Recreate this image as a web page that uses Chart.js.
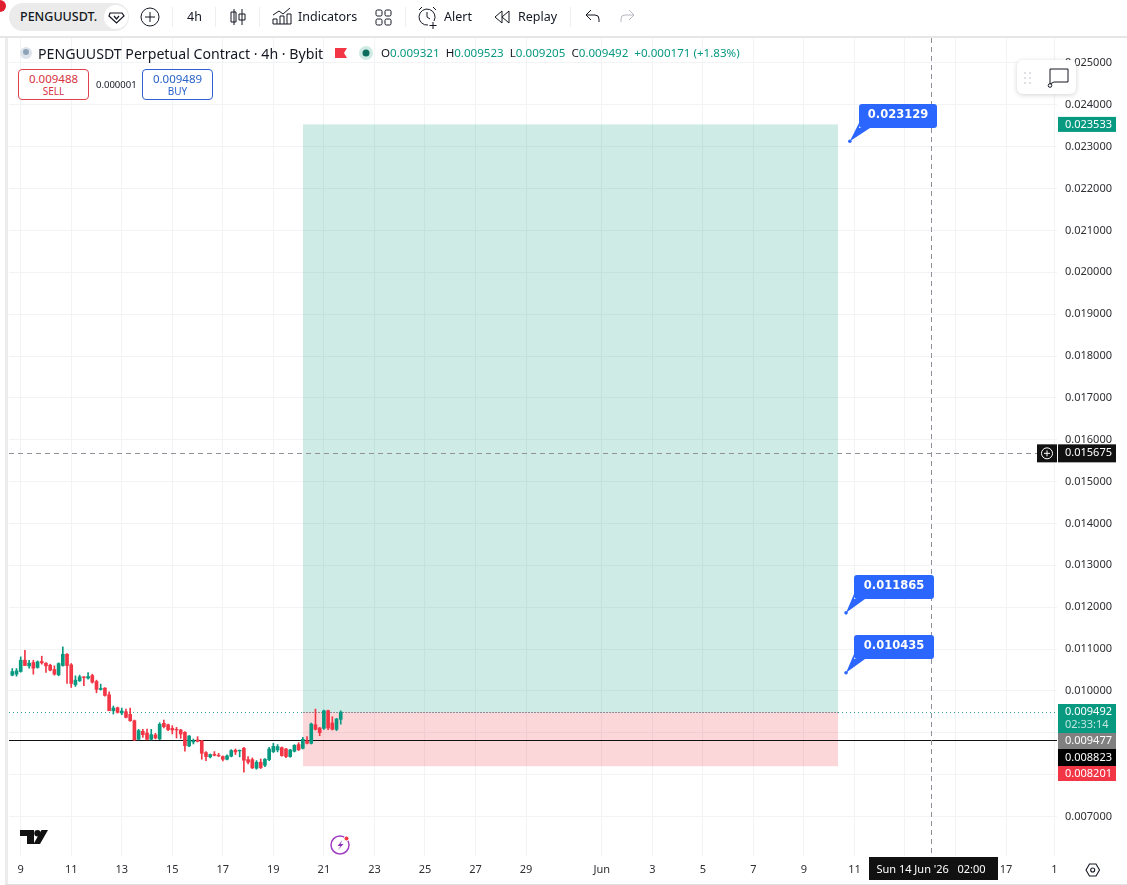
<!DOCTYPE html>
<html>
<head>
<meta charset="utf-8">
<title>PENGUUSDT</title>
<script src="https://cdn.jsdelivr.net/npm/chart.js@4/dist/chart.umd.min.js"></script>
<style>
  html, body { margin: 0; padding: 0; background: #fff; }
  body { width: 1127px; height: 885px; position: relative; overflow: hidden; font-family: "Noto Sans", sans-serif; color: #131722; }
  canvas { position: absolute; left: 0; top: 0; }
  .abs { position: absolute; white-space: nowrap; }
  .frame-left { position: absolute; left: 5px; top: 38px; width: 3px; height: 847px; background: #ececec; }
  .frame-top { position: absolute; left: 0; top: 36px; width: 1127px; height: 2px; background: #e6e6e6; }
  .frame-bottom { position: absolute; left: 5px; top: 884px; width: 1122px; height: 1px; background: #e0e0e0; }
  .pill { position: absolute; left: 9px; top: 3px; width: 120px; height: 28px; border-radius: 14px; background: #ebebeb; }
  .tool { font-size: 12.5px; top: 8px; line-height: 18px; }
  .sep { position: absolute; top: 7px; width: 1px; height: 20px; background: #eeeeee; }
  .legend-title { left: 38px; top: 44px; font-size: 14.15px; line-height: 19px; }
  .ohlc { left: 381px; top: 45px; font-size: 11.6px; line-height: 16px; color: #089981; }
  .ohlc b { font-weight: normal; color: #131722; }
  .trade { position: absolute; top: 69px; height: 28px; width: 69px; border-radius: 4px; background: #fff; text-align: center; font-size: 11.5px; line-height: 15px; padding-top: 1px; }
  .trade small { display: block; font-size: 10px; line-height: 11px; }
  .sell { left: 18px; border: 1px solid #e0434f; color: #d9323f; }
  .buy { left: 142px; border: 1px solid #2f5fd0; color: #2962c8; }
  .spread { left: 96px; top: 78px; font-size: 9.5px; line-height: 14px; }
  .float-bar { position: absolute; left: 1017px; top: 60px; width: 59px; height: 34px; border-radius: 6px; background: #fff; box-shadow: 0 1px 5px rgba(0,0,0,.18); }
  svg { position: absolute; overflow: visible; }
</style>
</head>
<body>
<canvas id="chart" width="1127" height="885"></canvas>

<div class="frame-left"></div>
<div class="frame-top"></div>
<div class="frame-bottom"></div>

<!-- top toolbar -->
<svg style="left:0;top:0" width="1" height="1"><circle cx="0" cy="6" r="6" fill="#e01e2e"/></svg>
<div class="pill"></div>
<div class="abs tool" style="left:20px;font-weight:500;font-size:12.5px">PENGUUSDT.</div>
<svg style="left:0;top:0" width="1127" height="36" fill="none" stroke="#131722" stroke-width="1">
  <circle cx="116" cy="17" r="12" fill="#fff" stroke="none"/>
  <path d="M110 13h12l2 3-7.500 7-7.500-7z M114 16l2.500 3 2.500-3" stroke-width="1.200"/>
  <circle cx="150" cy="17" r="9"/><path d="M150 12v10M145 17h10"/>
  <path d="M234 9v16M231 12h5v10h-5zM242 9v16M239 14h6v6h-6z"/>
  <path d="M273 24h18M273 24v-5h4v5M280 24v-8h4v8M287 24v-10h4v10M273 15l6-4 4 3 7-6"/>
  <rect x="376" y="10" width="6" height="6" rx="1.500"/><rect x="385" y="10" width="6" height="6" rx="1.500"/>
  <rect x="376" y="19" width="6" height="6" rx="1.500"/><rect x="385" y="19" width="6" height="6" rx="1.500"/>
  <path d="M434 21a8 8 0 1 0-6 4M427 12v5l3 2M419 10l3-3M433 7l3 3M433 22v7M429.500 25.500h7"/>
  <path d="M502 11l-7 6 7 6zM509 11l-7 6 7 6z"/>
  <path d="M586 15l5-5M586 15l5 5M586 15h9a4 4 0 0 1 4 4v3"/>
  <path stroke="#b5b8c0" d="M634 15l-5-5M634 15l-5 5M634 15h-9a4 4 0 0 0-4 4v3"/>
</svg>
<div class="abs tool" style="left:187px">4h</div>
<div class="abs tool" style="left:298px">Indicators</div>
<div class="abs tool" style="left:444px">Alert</div>
<div class="abs tool" style="left:518px">Replay</div>
<div class="sep" style="left:172px"></div>
<div class="sep" style="left:215px"></div>
<div class="sep" style="left:259px"></div>
<div class="sep" style="left:405px"></div>
<div class="sep" style="left:570px"></div>

<!-- legend -->
<svg style="left:0;top:0" width="400" height="60">
  <circle cx="26" cy="53" r="6" fill="#dde3ea"/><circle cx="26" cy="52" r="3" fill="#8fa3b8"/>
  <path d="M335 48h12l-3 5 3 5h-12z" fill="#f23645"/>
  <circle cx="366" cy="53" r="7" fill="#cfeae4"/><circle cx="366" cy="53" r="3.500" fill="#0b6e5d"/>
</svg>
<div class="abs legend-title">PENGUUSDT Perpetual Contract · 4h · Bybit</div>
<div class="abs ohlc"><b>O</b>0.009321 &nbsp;<b>H</b>0.009523 &nbsp;<b>L</b>0.009205 &nbsp;<b>C</b>0.009492 &nbsp;+0.000171 (+1.83%)</div>
<div class="trade sell">0.009488<small>SELL</small></div>
<div class="abs spread">0.000001</div>
<div class="trade buy">0.009489<small>BUY</small></div>

<!-- floating drawing toolbar -->
<div class="float-bar"></div>
<svg style="left:0;top:0" width="1127" height="100" fill="none">
  <g fill="#b8bbc3">
    <circle cx="1025" cy="73" r=".8"/><circle cx="1030" cy="73" r=".8"/>
    <circle cx="1025" cy="78" r=".8"/><circle cx="1030" cy="78" r=".8"/>
    <circle cx="1025" cy="83" r=".8"/><circle cx="1030" cy="83" r=".8"/>
  </g>
  <path d="M1050 84v-15h18v13h-14z" stroke="#131722" stroke-width="1"/>
  <circle cx="1050" cy="85.500" r="1.800" stroke="#131722" fill="#fff"/>
</svg>

<!-- logo and flash icon -->
<svg style="left:0;top:0" width="400" height="860">
  <path d="M20 830h14v14h-7v-8h-7z" fill="#111"/>
  <path d="M41.500 830h6.500l-8 14h-6.500z" fill="#111"/>
  <circle cx="37.500" cy="833.200" r="3.200" fill="#111"/>
  <circle cx="340" cy="845" r="9" fill="#fff" stroke="#a13fc4" stroke-width="1.500"/>
  <path d="M342.500 840l-5 6h3l-2.500 4 5.500-6h-3z" fill="#8e2fb8"/>
  <circle cx="346.500" cy="838.500" r="2.500" fill="#f23645" stroke="#fff"/>
</svg>

<!-- settings gear -->
<svg style="left:0;top:0" width="1127" height="885" fill="none" stroke="#131722" stroke-width="1.100">
  <path d="M1086 870l3.500-6h6.500l3.500 6-3.500 6h-6.500z"/>
  <circle cx="1092.700" cy="870" r="2"/>
</svg>

<script>
// 4h candles, one entry per bar
const opens = [0.010376,0.010400,0.010463,0.010733,0.010598,0.010678,0.010559,0.010702,0.010662,0.010614,0.010511,0.010384,0.010606,0.010876,0.010622,0.010146,0.010241,0.010336,0.010305,0.010368,0.010225,0.010035,0.010066,0.009908,0.009526,0.009598,0.009471,0.009503,0.009439,0.009288,0.008844,0.009034,0.008994,0.008844,0.008947,0.008851,0.009225,0.009193,0.009106,0.009082,0.009066,0.009010,0.008685,0.008780,0.008828,0.008804,0.008526,0.008423,0.008486,0.008462,0.008431,0.008367,0.008439,0.008582,0.008566,0.008629,0.008359,0.008359,0.008153,0.008296,0.008224,0.008359,0.008550,0.008589,0.008645,0.008613,0.008431,0.008558,0.008717,0.008629,0.008804,0.008748,0.009193,0.009114,0.009106,0.009526,0.009233,0.009082,0.009321];
const highs = [0.010535,0.010535,0.010813,0.010971,0.010733,0.010733,0.010717,0.010829,0.010678,0.010638,0.010598,0.010670,0.011051,0.010892,0.010654,0.010360,0.010376,0.010344,0.010439,0.010400,0.010257,0.010162,0.010082,0.009979,0.009638,0.009614,0.009590,0.009566,0.009590,0.009304,0.009082,0.009082,0.009090,0.009082,0.008986,0.009241,0.009304,0.009209,0.009169,0.009129,0.009082,0.009026,0.008931,0.008851,0.008907,0.008820,0.008550,0.008494,0.008550,0.008510,0.008447,0.008470,0.008597,0.008613,0.008589,0.008653,0.008431,0.008399,0.008335,0.008375,0.008383,0.008653,0.008748,0.008717,0.008661,0.008629,0.008605,0.008717,0.008764,0.008891,0.008907,0.009233,0.009566,0.009129,0.009542,0.009542,0.009383,0.009344,0.009523];
const lows = [0.010360,0.010352,0.010447,0.010606,0.010543,0.010400,0.010543,0.010638,0.010439,0.010479,0.010376,0.010360,0.010590,0.010177,0.010082,0.010106,0.010225,0.010122,0.010281,0.010185,0.009955,0.010019,0.009876,0.009526,0.009447,0.009471,0.009431,0.009352,0.009272,0.008812,0.008828,0.008891,0.008828,0.008828,0.008851,0.008836,0.009114,0.009050,0.008971,0.008875,0.008867,0.008558,0.008669,0.008732,0.008780,0.008367,0.008335,0.008399,0.008447,0.008431,0.008327,0.008351,0.008423,0.008478,0.008423,0.008057,0.008256,0.008145,0.008129,0.008145,0.008192,0.008335,0.008526,0.008542,0.008439,0.008407,0.008415,0.008542,0.008574,0.008613,0.008732,0.008732,0.009066,0.008931,0.009082,0.009074,0.009066,0.009050,0.009205];
const closes = [0.010463,0.010479,0.010733,0.010606,0.010662,0.010543,0.010694,0.010670,0.010598,0.010495,0.010400,0.010654,0.010876,0.010606,0.010177,0.010257,0.010336,0.010320,0.010344,0.010209,0.010035,0.010058,0.009892,0.009526,0.009590,0.009487,0.009518,0.009368,0.009288,0.008828,0.009050,0.008955,0.008844,0.008955,0.008875,0.009201,0.009145,0.009074,0.009066,0.009066,0.008971,0.008693,0.008923,0.008812,0.008796,0.008510,0.008431,0.008478,0.008462,0.008447,0.008367,0.008447,0.008574,0.008542,0.008582,0.008343,0.008296,0.008161,0.008296,0.008169,0.008367,0.008613,0.008677,0.008669,0.008454,0.008431,0.008589,0.008701,0.008597,0.008844,0.008748,0.009209,0.009082,0.009002,0.009526,0.009114,0.009082,0.009328,0.009492];

// axis ticks (x values count bars from the first candle)
const yTicks = [0.007,0.008,0.009,0.010,0.011,0.012,0.013,0.014,0.015,0.016,0.017,0.018,0.019,0.020,0.021,0.022,0.023,0.024,0.025];
const xTicks = [2,14,26,38,50,62,74,86,98,110,122,140,152,164,176,188,200,212,224,236,247.5];
const xLabels = ["9","11","13","15","17","19","21","23","25","27","29","Jun","3","5","7","9","11","13","15","17","1"];

// long position tool and price levels
const positionStart = 69.05, positionEnd = 196.1;
const targetPrice = 0.023533, entryPrice = 0.009492, stopPrice = 0.008201;
const lastPrice = 0.009492, linePrice = 0.008823, crossPrice = 0.015675, crossBar = 218.2;
const calloutPrices = [0.023129, 0.011865, 0.010435];
const calloutBars = [198.9, 198, 198];

const GREEN = "#089981";
const RED = "#F23645";
const FONT = '"Noto Sans", sans-serif';

const bars = opens.map((o, i) => i);
const candleColours = opens.map((o, i) => closes[i] >= o ? GREEN : RED);

function hLine(ctx, y, x0, x1, colour, width, dash) {
    ctx.save();
    ctx.beginPath();
    ctx.strokeStyle = colour;
    ctx.lineWidth = width;
    ctx.setLineDash(dash);
    ctx.moveTo(x0, Math.round(y) + 0.5);
    ctx.lineTo(x1, Math.round(y) + 0.5);
    ctx.stroke();
    ctx.restore();
}

// Position rectangles and reference lines sit under the candles
const underlay = {
    id: "underlay",
    beforeDatasetsDraw(chart) {
        const { ctx, chartArea: a, scales: { x, y } } = chart;
        const left = x.getPixelForValue(positionStart);
        const right = x.getPixelForValue(positionEnd);
        const top = y.getPixelForValue(targetPrice);
        const mid = y.getPixelForValue(entryPrice);
        const bottom = y.getPixelForValue(stopPrice);
        ctx.fillStyle = "rgba(8,153,129,0.2)";
        ctx.fillRect(left, top, right - left, mid - top);
        ctx.fillStyle = "rgba(242,54,69,0.2)";
        ctx.fillRect(left, mid, right - left, bottom - mid);
        hLine(ctx, mid, left, right, "#8a8d96", 1, [2, 1]);
        hLine(ctx, mid, a.left, left, "#2aa592", 1, [1, 3]);
        hLine(ctx, mid, right, a.right, "#2aa592", 1, [1, 3]);
        hLine(ctx, y.getPixelForValue(linePrice), a.left, a.right, "#111", 1.2, []);
    }
};

function priceTag(ctx, text, top, height, colour) {
    ctx.fillStyle = colour;
    ctx.fillRect(1058, top, 58, height);
    ctx.fillStyle = "#fff";
    ctx.font = "11px " + FONT;
    ctx.textAlign = "left";
    ctx.textBaseline = "middle";
    ctx.fillText(text, 1065, top + height / 2);
}

function callout(ctx, px, py, label, boxX, boxY, boxW) {
    ctx.fillStyle = "#2B66FF";
    ctx.beginPath();
    ctx.roundRect(boxX, boxY, boxW, 24, 3);
    ctx.fill();
    ctx.beginPath();
    ctx.moveTo(px, py);
    ctx.lineTo(boxX, boxY + 19);
    ctx.lineTo(boxX, boxY + 24);
    ctx.lineTo(boxX + 11, boxY + 24);
    ctx.closePath();
    ctx.fill();
    ctx.beginPath();
    ctx.arc(px, py, 1.8, 0, Math.PI * 2);
    ctx.fill();
    ctx.fillStyle = "#fff";
    ctx.font = 'bold 11.5px "DejaVu Sans", sans-serif';
    ctx.textAlign = "center";
    ctx.textBaseline = "middle";
    ctx.fillText(label, boxX + boxW / 2, boxY + 11.5);
}

// Crosshair, callouts and axis tags sit on top
const overlay = {
    id: "overlay",
    afterDraw(chart) {
        const { ctx, chartArea: a, scales: { x, y } } = chart;
        const crossY = y.getPixelForValue(crossPrice);
        const crossX = Math.round(x.getPixelForValue(crossBar)) + 0.5;

        hLine(ctx, crossY, a.left, 1037, "#8f929b", 1, [5, 4]);
        ctx.save();
        ctx.beginPath();
        ctx.strokeStyle = "#8f929b";
        ctx.setLineDash([5, 4]);
        ctx.moveTo(crossX, a.top);
        ctx.lineTo(crossX, a.bottom);
        ctx.stroke();
        ctx.restore();

        const boxes = [[859, 104, 78], [854, 575, 80], [854, 635, 80]];
        calloutPrices.forEach((p, i) => {
            const px = x.getPixelForValue(calloutBars[i]);
            callout(ctx, px, y.getPixelForValue(p), p.toFixed(6), boxes[i][0], boxes[i][1], boxes[i][2]);
        });

        // axis tags
        priceTag(ctx, targetPrice.toFixed(6), y.getPixelForValue(targetPrice) - 7.5, 15, GREEN);
        priceTag(ctx, "0.009477", 733, 16, "#808080");
        priceTag(ctx, linePrice.toFixed(6), 749, 17, "#000");
        priceTag(ctx, stopPrice.toFixed(6), 766, 15, RED);

        // last price tag with the bar countdown
        ctx.fillStyle = GREEN;
        ctx.fillRect(1058, 704, 58, 29);
        ctx.font = "11px " + FONT;
        ctx.textAlign = "left";
        ctx.textBaseline = "middle";
        ctx.fillStyle = "#fff";
        ctx.fillText(lastPrice.toFixed(6), 1065, 712);
        ctx.fillStyle = "#bfe6df";
        ctx.fillText("02:33:14", 1065, 725);

        // crosshair price tag and plus button
        priceTag(ctx, crossPrice.toFixed(6), crossY - 9, 18, "#111");
        ctx.fillStyle = "#111";
        ctx.fillRect(1037, crossY - 9, 20, 18);
        ctx.strokeStyle = "#fff";
        ctx.lineWidth = 1;
        ctx.beginPath();
        ctx.arc(1047, crossY, 5.5, 0, Math.PI * 2);
        ctx.moveTo(1044, crossY);
        ctx.lineTo(1050, crossY);
        ctx.moveTo(1047, crossY - 3);
        ctx.lineTo(1047, crossY + 3);
        ctx.stroke();

        // crosshair date tag
        ctx.fillStyle = "#111";
        ctx.fillRect(869, 857, 129, 23);
        ctx.fillStyle = "#fff";
        ctx.font = "11px " + FONT;
        ctx.textAlign = "center";
        ctx.fillText("Sun 14 Jun '26   02:00", 931, 870);
    }
};

new Chart(document.getElementById("chart"), {
    type: "bar",
    data: {
        datasets: [
            {
                label: "wick",
                data: bars.map(i => ({ x: i, y: [lows[i], highs[i]] })),
                backgroundColor: candleColours,
                barThickness: 1,
                grouped: false,
                order: 2,
            },
            {
                label: "body",
                data: bars.map(i => ({ x: i, y: [opens[i], closes[i]] })),
                backgroundColor: candleColours,
                barThickness: 3,
                grouped: false,
                order: 1,
            },
        ],
    },
    options: {
        responsive: false,
        animation: false,
        devicePixelRatio: 1,
        layout: { padding: { left: 9, top: 38, right: 0, bottom: 0 } },
        plugins: { legend: { display: false }, tooltip: { enabled: false } },
        scales: {
            x: {
                type: "linear",
                offset: false,
                min: -0.78,
                max: 248.1,
                afterBuildTicks: axis => { axis.ticks = xTicks.map(v => ({ value: v })); },
                afterFit: axis => { axis.height = 29; },
                grid: { color: "#f2f3f5", drawTicks: false, offset: false },
                border: { display: false },
                ticks: {
                    autoSkip: false,
                    maxRotation: 0,
                    padding: 7,
                    color: "#2e2e33",
                    font: { family: FONT, size: 11 },
                    callback: value => xLabels[xTicks.indexOf(value)],
                },
            },
            y: {
                position: "right",
                min: 0.006056,
                max: 0.025597,
                afterBuildTicks: axis => { axis.ticks = yTicks.map(v => ({ value: v })); },
                afterFit: axis => { axis.width = 70; },
                grid: { color: "#f2f3f5", drawTicks: false },
                border: { display: false },
                ticks: {
                    padding: 8,
                    color: "#2e2e33",
                    font: { family: FONT, size: 11 },
                    callback: value => Number(value).toFixed(6),
                },
            },
        },
    },
    plugins: [underlay, overlay],
});
</script>
</body>
</html>
